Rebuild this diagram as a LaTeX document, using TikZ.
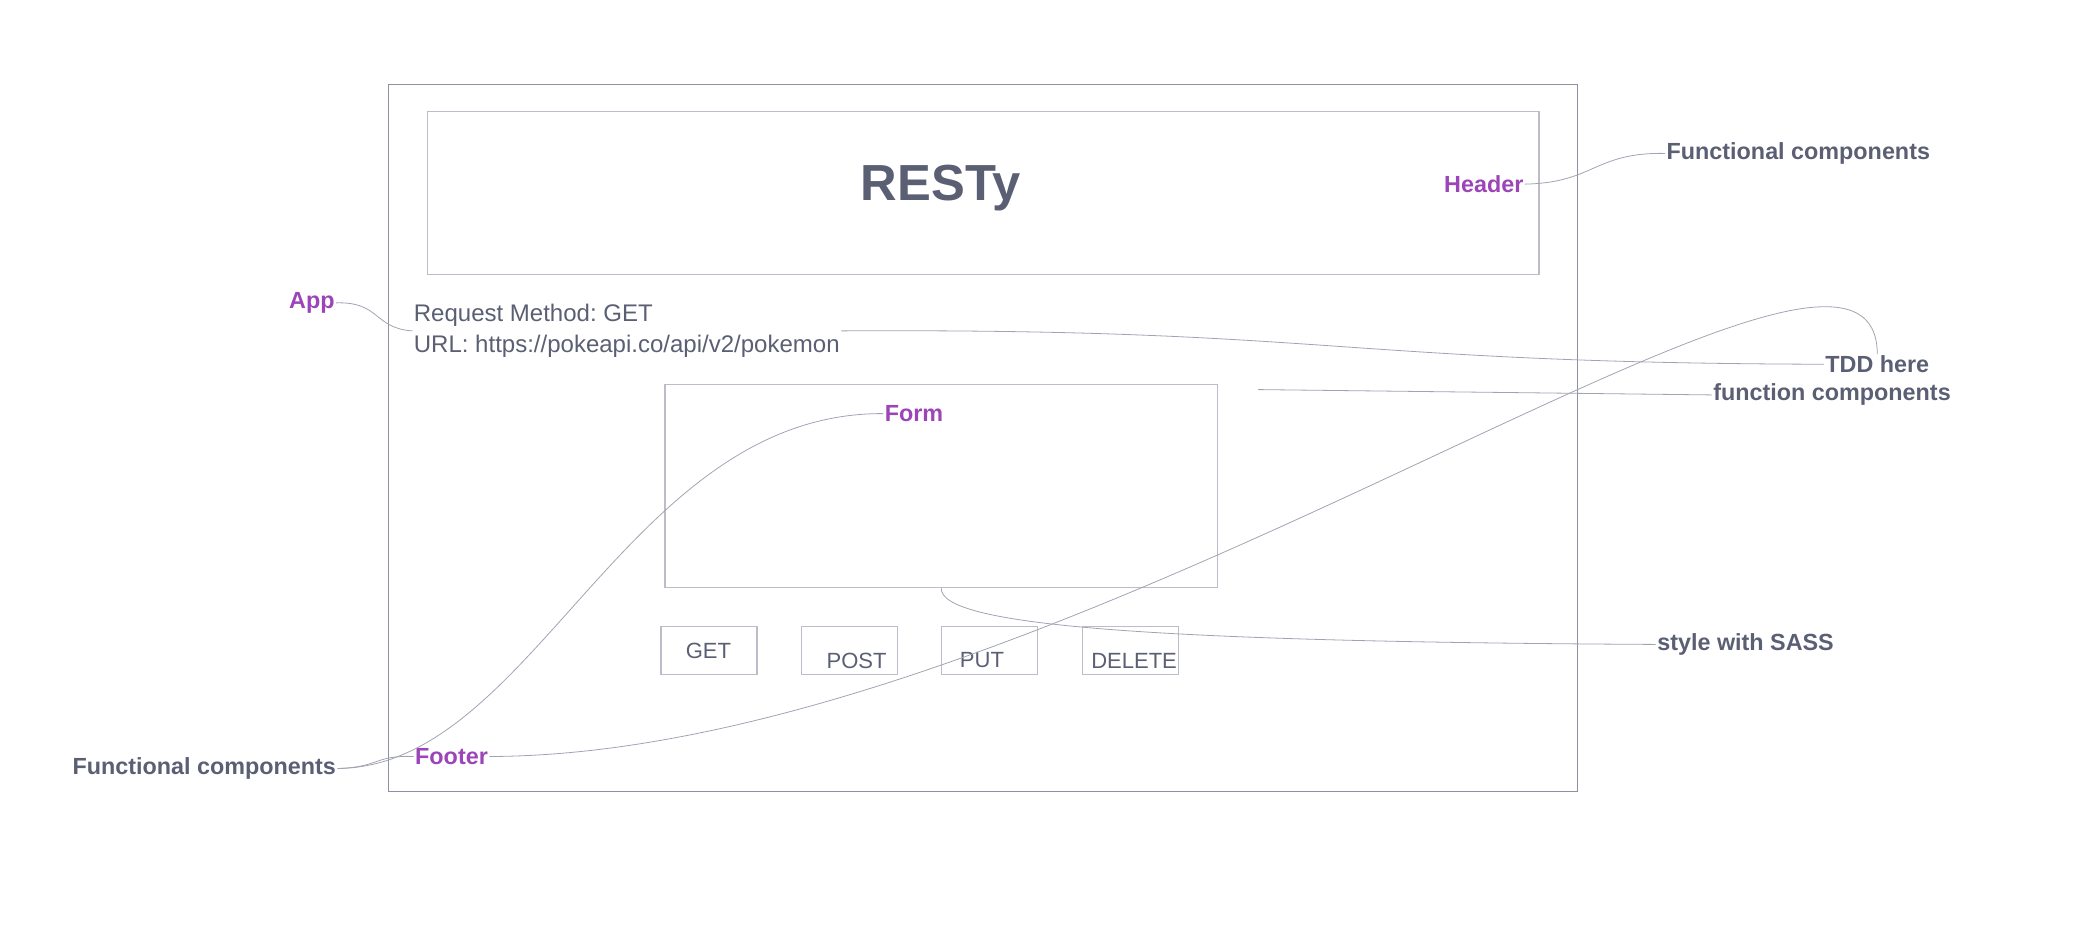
\documentclass[tikz,border=0pt]{standalone}
\usepackage{fontspec}
\setmainfont{Liberation Sans}
\usepackage{xcolor}
\usetikzlibrary{positioning}
\frenchspacing

\definecolor{inkgray}{HTML}{5A5F73}
\definecolor{tagpurple}{HTML}{9C45B8}
\definecolor{framegray}{HTML}{8E90A4}
\definecolor{boxgray}{HTML}{BDBDC9}
\definecolor{wiregray}{HTML}{A2A3B2}

\begin{document}
\begin{tikzpicture}[x=1pt, y=-1pt,
  box/.style={draw=boxgray, line width=0.9pt, inner sep=0pt, anchor=north west},
  tag/.style={text=tagpurple, font=\fontsize{17.5}{20}\selectfont\bfseries, inner sep=1pt},
  note/.style={text=inkgray, font=\fontsize{17.5}{20}\selectfont\bfseries, inner sep=1pt},
  plain/.style={text=inkgray, font=\fontsize{18}{23}\selectfont, inner sep=1pt},
  btntext/.style={text=inkgray, font=\fontsize{16.5}{20}\selectfont, inner sep=0pt},
  wire/.style={draw=wiregray, line width=0.6pt}]
\useasboundingbox (0,0) rectangle (1568,712);

% boxes
\node[box, draw=framegray, minimum width=891pt, minimum height=530pt] (box_app) at (291,63) {};
\node[box, minimum width=833pt, minimum height=122pt] (box_header) at (320,83) {};
\node[box, minimum width=414pt, minimum height=152pt] (box_form) at (498,288) {};

\node[box, minimum width=72pt, minimum height=36pt] (btn_get) at (495,469) {};
\node[box, minimum width=72pt, minimum height=36pt] (btn_post) at (600,469) {};
\node[box, minimum width=72pt, minimum height=36pt] (btn_put) at (705,469) {};
\node[box, minimum width=72pt, minimum height=36pt] (btn_delete) at (811,469) {};
\node[btntext] (txt_get) at (531,488) {GET};
\node[btntext] (txt_post) at (642,495) {POST};
\node[btntext] (txt_put) at (736,495) {PUT};
\node[btntext] (txt_delete) at (850,495) {DELETE};

% texts
\node[text=inkgray, font=\fontsize{38}{40}\selectfont\bfseries] (title_resty) at (705,141) {RESTy};
\node[plain, align=left, anchor=west] (req_text) at (309,248) {Request Method: GET\\URL: https://pokeapi.co/api/v2/pokemon};

\node[tag, anchor=east] (label_header) at (1143,138) {Header};
\node[tag, anchor=east] (label_app) at (252,227) {App};
\node[tag, anchor=west] (label_form) at (662,310) {Form};
\node[tag, anchor=west] (label_footer) at (310,567) {Footer};

\node[note, anchor=west] (func_top) at (1248,115) {Functional components};
\node[note, anchor=west] (label_tdd) at (1367,273) {TDD here};
\node[note, anchor=west] (label_fc) at (1283,296) {function components};
\node[note, anchor=west] (label_sass) at (1241,483) {style with SASS};
\node[note, anchor=east] (func_bottom) at (253,576) {Functional components};

\coordinate (fc_start) at (943,292);

% connectors
\draw[wire] (label_header.east) .. controls (1195,137) and (1195,114) .. (func_top.west);
\draw[wire] (label_app.east) .. controls (285,226) and (280,246) .. (req_text.west);
\draw[wire] (req_text.east) .. controls (1000,246) and (1000,272) .. (label_tdd.west);
\draw[wire] (label_footer.east) .. controls (800,566) and (1406,100) .. (label_tdd.north);
\draw[wire] (label_form.west) .. controls (470,309) and (400,575) .. (func_bottom.east);
\draw[wire] (func_bottom.east) .. controls (285,575) and (280,566) .. (label_footer.west);
\draw[wire] (fc_start) -- (label_fc.west);
\draw[wire] (box_form.south) .. controls (705,468) and (850,481) .. (label_sass.west);

\end{tikzpicture}
\end{document}
